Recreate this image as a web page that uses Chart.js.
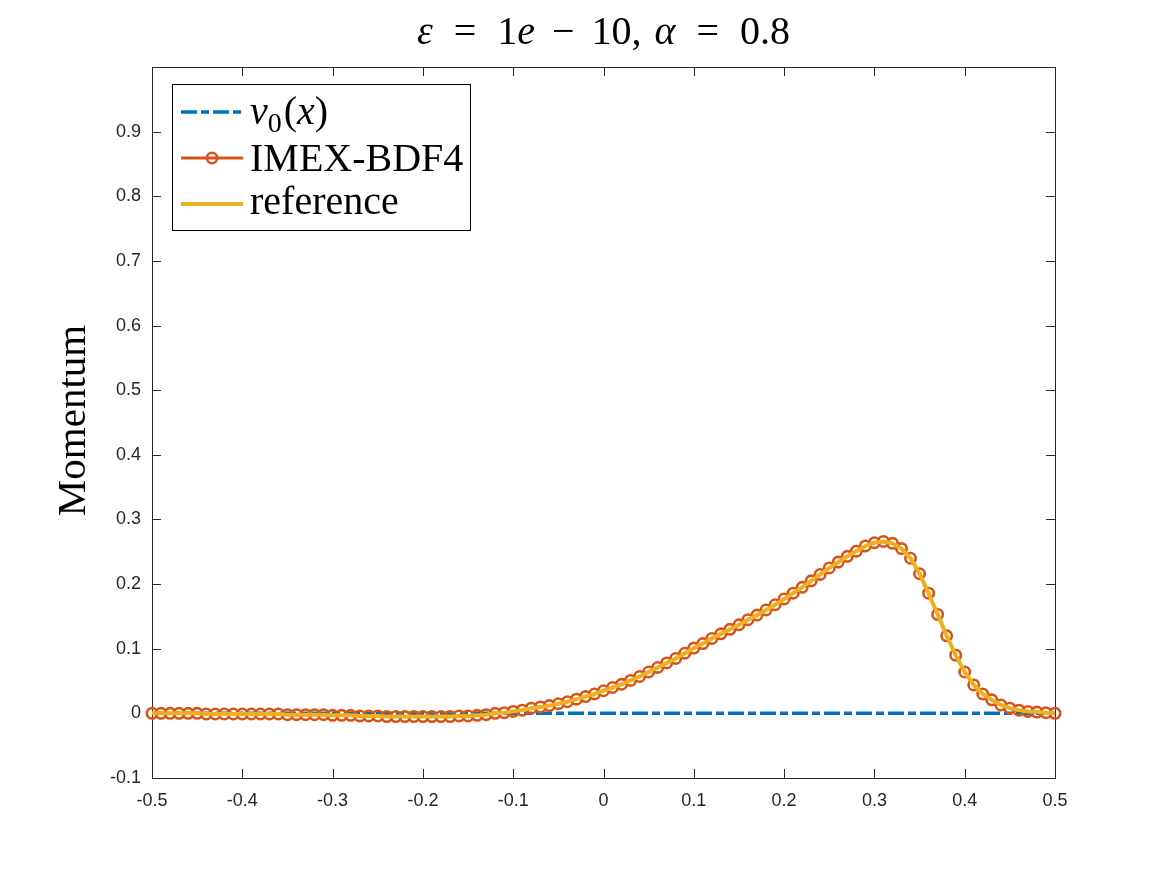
<!DOCTYPE html>
<html>
<head>
<meta charset="utf-8">
<script src="https://cdn.jsdelivr.net/npm/chart.js@4/dist/chart.umd.min.js"></script>
<style>
  html, body { margin: 0; padding: 0; background: #fff; }
</style>
</head>
<body>
<canvas id="momChart" width="1167" height="875"></canvas>
<script>
// grid points of the IMEX-BDF4 solution
const xGrid = [
  -0.50, -0.49, -0.48, -0.47, -0.46, -0.45, -0.44, -0.43, -0.42, -0.41,
  -0.40, -0.39, -0.38, -0.37, -0.36, -0.35, -0.34, -0.33, -0.32, -0.31,
  -0.30, -0.29, -0.28, -0.27, -0.26, -0.25, -0.24, -0.23, -0.22, -0.21,
  -0.20, -0.19, -0.18, -0.17, -0.16, -0.15, -0.14, -0.13, -0.12, -0.11,
  -0.10, -0.09, -0.08, -0.07, -0.06, -0.05, -0.04, -0.03, -0.02, -0.01,
  0.00, 0.01, 0.02, 0.03, 0.04, 0.05, 0.06, 0.07, 0.08, 0.09,
  0.10, 0.11, 0.12, 0.13, 0.14, 0.15, 0.16, 0.17, 0.18, 0.19,
  0.20, 0.21, 0.22, 0.23, 0.24, 0.25, 0.26, 0.27, 0.28, 0.29,
  0.30, 0.31, 0.32, 0.33, 0.34, 0.35, 0.36, 0.37, 0.38, 0.39,
  0.40, 0.41, 0.42, 0.43, 0.44, 0.45, 0.46, 0.47, 0.48, 0.49,
  0.50
];

const bdf4Values = [
  0.000, 0.000, 0.000, 0.000, 0.000, 0.000, -0.001, -0.001, -0.001, -0.001,
  -0.001, -0.001, -0.001, -0.001, -0.001, -0.002, -0.002, -0.002, -0.002, -0.002,
  -0.003, -0.003, -0.003, -0.004, -0.004, -0.004, -0.005, -0.005, -0.005, -0.005,
  -0.005, -0.005, -0.005, -0.005, -0.004, -0.004, -0.003, -0.002, 0.000, 0.001,
  0.003, 0.005, 0.008, 0.010, 0.012, 0.015, 0.018, 0.022, 0.026, 0.030,
  0.035, 0.040, 0.045, 0.051, 0.057, 0.064, 0.071, 0.078, 0.085, 0.093,
  0.101, 0.108, 0.116, 0.123, 0.130, 0.137, 0.145, 0.152, 0.160, 0.168,
  0.177, 0.186, 0.195, 0.205, 0.215, 0.225, 0.234, 0.243, 0.251, 0.259,
  0.264, 0.266, 0.263, 0.255, 0.240, 0.216, 0.186, 0.153, 0.120, 0.090,
  0.064, 0.044, 0.030, 0.021, 0.013, 0.008, 0.005, 0.003, 0.002, 0.001,
  0.000
];

// reference solution, read at the same points
const referenceValues = [
  0.000, 0.000, 0.000, 0.000, 0.000, 0.000, -0.001, -0.001, -0.001, -0.001,
  -0.001, -0.001, -0.001, -0.001, -0.001, -0.002, -0.002, -0.002, -0.002, -0.002,
  -0.003, -0.003, -0.003, -0.004, -0.004, -0.004, -0.005, -0.005, -0.005, -0.005,
  -0.005, -0.005, -0.005, -0.005, -0.004, -0.004, -0.003, -0.002, 0.000, 0.001,
  0.003, 0.005, 0.008, 0.010, 0.012, 0.015, 0.018, 0.022, 0.026, 0.030,
  0.035, 0.040, 0.045, 0.051, 0.057, 0.064, 0.071, 0.078, 0.085, 0.093,
  0.101, 0.108, 0.116, 0.123, 0.130, 0.137, 0.145, 0.152, 0.160, 0.168,
  0.177, 0.186, 0.195, 0.205, 0.215, 0.225, 0.234, 0.243, 0.251, 0.259,
  0.264, 0.266, 0.263, 0.255, 0.240, 0.216, 0.186, 0.153, 0.120, 0.090,
  0.064, 0.044, 0.030, 0.021, 0.013, 0.008, 0.005, 0.003, 0.002, 0.001,
  0.000
];

// initial momentum v0(x) = 0
const v0X = [-0.5, 0.5];
const v0Values = [0, 0];

const xTicks = [-0.5, -0.4, -0.3, -0.2, -0.1, 0, 0.1, 0.2, 0.3, 0.4, 0.5];
const xTickLabels = ['-0.5', '-0.4', '-0.3', '-0.2', '-0.1', '0', '0.1', '0.2', '0.3', '0.4', '0.5'];
const yTicks = [-0.1, 0, 0.1, 0.2, 0.3, 0.4, 0.5, 0.6, 0.7, 0.8, 0.9];
const yTickLabels = ['-0.1', '0', '0.1', '0.2', '0.3', '0.4', '0.5', '0.6', '0.7', '0.8', '0.9'];

const BLUE = '#0072BD';
const ORANGE = '#D95319';
const YELLOW = '#EDB120';
const AXIS = '#262626';
const SERIF = '"Liberation Serif", "Times New Roman", serif';

function pts(xs, ys) {
  return xs.map((x, i) => ({ x: x, y: ys[i] }));
}

// draws a run of text pieces (italic / subscript / fixed gaps)
function drawRich(ctx, parts, x, y, size, align) {
  let total = 0;
  parts.forEach(p => {
    if (p.g) { p.w = p.g; total += p.w; return; }
    ctx.font = (p.it ? 'italic ' : '') + (p.sub ? size * 0.7 : size) + 'px ' + SERIF;
    p.w = ctx.measureText(p.t).width;
    total += p.w;
  });
  let cx = align === 'center' ? x - total / 2 : x;
  ctx.textAlign = 'left';
  ctx.textBaseline = 'alphabetic';
  parts.forEach(p => {
    if (!p.g) {
      ctx.font = (p.it ? 'italic ' : '') + (p.sub ? size * 0.7 : size) + 'px ' + SERIF;
      ctx.fillText(p.t, cx, p.sub ? y + size * 0.2 : y);
    }
    cx += p.w;
  });
}

// box with inward ticks, like the original axes
const boxPlugin = {
  id: 'boxPlugin',
  beforeDatasetsDraw(chart) {
    const { ctx, chartArea: a, scales } = chart;
    ctx.save();
    ctx.strokeStyle = AXIS;
    ctx.lineWidth = 1;
    ctx.strokeRect(Math.round(a.left) + 0.5, Math.round(a.top) + 0.5,
      Math.round(a.right - a.left), Math.round(a.bottom - a.top));
    ctx.beginPath();
    const tl = 9;
    xTicks.forEach(v => {
      const px = Math.round(scales.x.getPixelForValue(v)) + 0.5;
      ctx.moveTo(px, a.bottom); ctx.lineTo(px, a.bottom - tl);
      ctx.moveTo(px, a.top); ctx.lineTo(px, a.top + tl);
    });
    yTicks.forEach(v => {
      const py = Math.round(scales.y.getPixelForValue(v)) + 0.5;
      ctx.moveTo(a.left, py); ctx.lineTo(a.left + tl, py);
      ctx.moveTo(a.right, py); ctx.lineTo(a.right - tl, py);
    });
    ctx.stroke();
    ctx.restore();
  },
  afterDraw(chart) {
    const { ctx, chartArea: a } = chart;
    ctx.save();
    ctx.fillStyle = '#000';

    // title
    drawRich(ctx, [
      { t: 'ε', it: true }, { g: 21 }, { t: '=' }, { g: 21 }, { t: '1' }, { t: 'e', it: true },
      { g: 17 }, { t: '−' }, { g: 17 }, { t: '10,' }, { g: 13 }, { t: 'α', it: true },
      { g: 21 }, { t: '=' }, { g: 21 }, { t: '0.8' }
    ], (a.left + a.right) / 2, 44, 40, 'center');

    // y axis label
    ctx.save();
    ctx.translate(85, (a.top + a.bottom) / 2 - 2);
    ctx.rotate(-Math.PI / 2);
    ctx.font = '41px ' + SERIF;
    ctx.textAlign = 'center';
    ctx.textBaseline = 'alphabetic';
    ctx.fillText('Momentum', 0, 0);
    ctx.restore();

    // legend
    const lx = 172, ly = 84, lw = 298, lh = 146;
    ctx.fillStyle = '#fff';
    ctx.fillRect(lx, ly, lw, lh);
    ctx.strokeStyle = '#000';
    ctx.lineWidth = 1;
    ctx.strokeRect(lx + 0.5, ly + 0.5, lw, lh);

    const ds = chart.data.datasets;
    const rows = [112, 158, 204];
    const x0 = 181, x1 = 243;
    [0, 1, 2].forEach(k => {
      const d = ds[k];
      const y = rows[k];
      ctx.save();
      ctx.strokeStyle = d.borderColor;
      ctx.lineWidth = d.borderWidth;
      ctx.setLineDash(d.borderDash || []);
      ctx.beginPath();
      ctx.moveTo(x0, y); ctx.lineTo(x1, y);
      ctx.stroke();
      if (d.pointRadius > 0) {
        ctx.setLineDash([]);
        ctx.lineWidth = d.pointBorderWidth;
        ctx.beginPath();
        ctx.arc((x0 + x1) / 2, y, d.pointRadius, 0, Math.PI * 2);
        ctx.stroke();
      }
      ctx.restore();
    });
    ctx.fillStyle = '#000';
    drawRich(ctx, [
      { t: 'v', it: true }, { t: '0', sub: true }, { g: 2 }, { t: '(' }, { t: 'x', it: true }, { t: ')' }
    ], 250, rows[0] + 12, 40, 'left');
    drawRich(ctx, [{ t: 'IMEX-BDF4' }], 250, rows[1] + 13, 40, 'left');
    drawRich(ctx, [{ t: 'reference' }], 250, rows[2] + 10, 40, 'left');
    ctx.restore();
  }
};

const tickFont = { family: '"Liberation Sans", Arial, sans-serif', size: 18 };

new Chart(document.getElementById('momChart'), {
  type: 'line',
  data: {
    datasets: [
      {
        label: 'v0(x)',
        data: pts(v0X, v0Values),
        borderColor: BLUE,
        borderWidth: 3.5,
        borderDash: [16, 4, 8, 4],
        pointRadius: 0,
        order: 2
      },
      {
        label: 'IMEX-BDF4',
        data: pts(xGrid, bdf4Values),
        borderColor: ORANGE,
        borderWidth: 3,
        pointRadius: 5.2,
        pointBorderWidth: 2.6,
        pointBorderColor: ORANGE,
        pointBackgroundColor: 'rgba(0,0,0,0)',
        clip: false,
        order: 1
      },
      {
        label: 'reference',
        data: pts(xGrid, referenceValues),
        borderColor: YELLOW,
        borderWidth: 4,
        pointRadius: 0,
        order: 0
      }
    ]
  },
  options: {
    responsive: false,
    animation: false,
    devicePixelRatio: 1,
    layout: { padding: { left: 0, top: 67, right: 112, bottom: 0 } },
    plugins: {
      legend: { display: false },
      tooltip: { enabled: false },
      title: { display: false }
    },
    scales: {
      x: {
        type: 'linear',
        min: -0.5,
        max: 0.5,
        afterBuildTicks: s => { s.ticks = xTicks.map(v => ({ value: v })); },
        afterFit: s => { s.height = 97; },
        ticks: {
          callback: (v, i) => xTickLabels[i],
          font: tickFont,
          color: AXIS,
          padding: 12,
          maxRotation: 0,
          autoSkip: false
        },
        grid: { display: false, drawTicks: false },
        border: { display: false }
      },
      y: {
        min: -0.1,
        max: 1.0,
        afterBuildTicks: s => { s.ticks = yTicks.map(v => ({ value: v })); },
        afterFit: s => { s.width = 152; },
        ticks: {
          callback: (v, i) => yTickLabels[i],
          font: tickFont,
          color: AXIS,
          padding: 11
        },
        grid: { display: false, drawTicks: false },
        border: { display: false }
      }
    }
  },
  plugins: [boxPlugin]
});
</script>
</body>
</html>
